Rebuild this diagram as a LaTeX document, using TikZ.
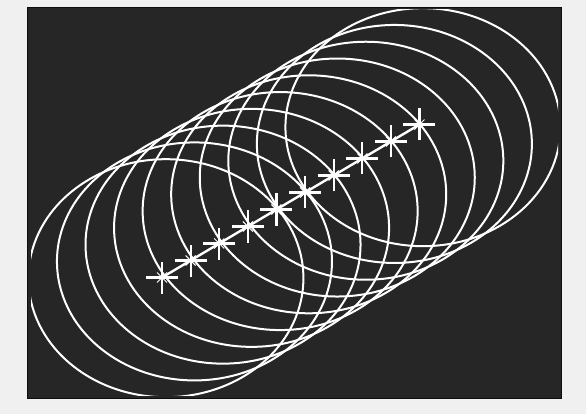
\documentclass[tikz,border=0pt]{standalone}
\begin{document}
\begin{tikzpicture}[x=1pt,y=-1pt,
  wl/.style={white, line width=2pt},
  starmark/.style={white, line width=2.2pt}]
\useasboundingbox (0,0) rectangle (586,414);
\fill[black!6] (0,0) rectangle (586,414);
\fill[black!85] (27.5,7.5) rectangle (561,398.5);
\draw[black!95, line width=0.8pt] (27.5,7.5) rectangle (561,398.5);
\begin{scope}
  \clip (31,10) rectangle (558,395);
  \foreach \i in {0,...,9} {
    \draw[wl] ({165.9+28.56*\i},{278.2-16.78*\i}) ellipse [x radius=137.5, y radius=119];
  }
\end{scope}
\foreach \i in {0,...,9} \coordinate (s\i) at ({162+28.61*\i},{277.5-17*\i});
\draw[wl, line width=2.4pt] (s0) -- (s9);
\foreach \i in {0,...,9} {
  \draw[starmark] ([xshift=-16pt]s\i) -- ([xshift=16pt]s\i);
  \draw[starmark] ([yshift=-16pt]s\i) -- ([yshift=16pt]s\i);
  \draw[white, line width=1pt] ([shift={(-5pt,-5pt)}]s\i) -- ([shift={(5pt,5pt)}]s\i);
  \draw[white, line width=1pt] ([shift={(-5pt,5pt)}]s\i) -- ([shift={(5pt,-5pt)}]s\i);
}
\end{tikzpicture}
\end{document}
